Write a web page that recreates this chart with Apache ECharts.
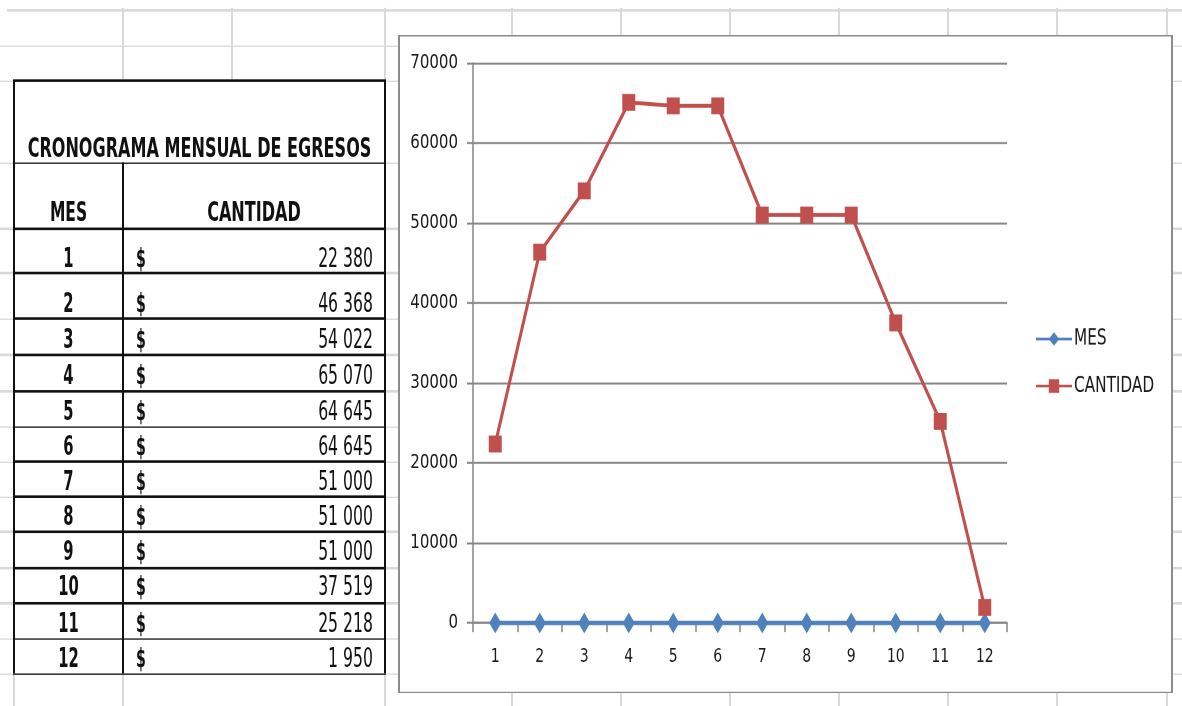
<!DOCTYPE html>
<html>
<head>
<meta charset="utf-8">
<script src="https://cdn.jsdelivr.net/npm/echarts@6/dist/echarts.min.js"></script>
<style>
  html, body { margin:0; padding:0; background:#fff; width:1182px; height:706px; overflow:hidden; }
  #wrap { position:absolute; left:0; top:0; width:1182px; height:543px; transform-origin:0 0; }
  .ln { position:absolute; }
  .txt { position:absolute; font-family:'Liberation Sans Narrow','DejaVu Sans Condensed','Arial Narrow',sans-serif; font-size:21px; line-height:21px; color:#111; white-space:nowrap; }
  .b { font-weight:bold; }
</style>
</head>
<body>
<div id="wrap"></div>
<script>
// ---------------- data ----------------
const tableTitle = 'CRONOGRAMA MENSUAL DE EGRESOS';
const headerMes = 'MES';
const headerCantidad = 'CANTIDAD';
const months = ['1','2','3','4','5','6','7','8','9','10','11','12'];
const mesValues = [1,2,3,4,5,6,7,8,9,10,11,12];
const cantidadValues = [22380,46368,54022,65070,64645,64645,51000,51000,51000,37519,25218,1950];
const yTicks = [0,10000,20000,30000,40000,50000,60000,70000];

// ---------------- layout (image is vertically stretched) ----------------
const H = 543, S = 706 / H;
const wrap = document.getElementById('wrap');
wrap.style.transform = 'scaleY(' + S + ')';
const Y = v => v / S;

function line(x, y, w, h, color) {
  const d = document.createElement('div');
  d.className = 'ln';
  d.style.left = x + 'px'; d.style.top = y + 'px';
  d.style.width = w + 'px'; d.style.height = h + 'px';
  d.style.background = color;
  wrap.appendChild(d);
  return d;
}
function text(str, cls, css, sx, origin) {
  const d = document.createElement('div');
  d.className = 'txt ' + (cls || '');
  d.textContent = str;
  Object.assign(d.style, css);
  d.style.transform = 'scaleX(' + sx + ')';
  d.style.transformOrigin = origin + ' 50%';
  wrap.appendChild(d);
  return d;
}

// spreadsheet grid
const gridColor = '#d9d9d9';
const rowLines = [46,81,163,229,273,319,355,391,427,462,497,532,568,603,639,674];
line(7, Y(9), 1175, 1.6, gridColor);
rowLines.forEach(y => line(0, Y(y) - 0.7, 1182, 1.6, gridColor));
[123,385,512,621,730,839,948,1057,1167].forEach(x => line(x - 1, Y(8), 2, H, gridColor));
line(13, Y(81), 2, H, gridColor);
line(231, Y(8), 2, Y(81) - Y(8), gridColor);

// table
const tL = 14, tR = 385, tT = 81, tB = 674, colX = 123;
line(tL - 1, Y(tT), tR - tL + 2, Y(tB) - Y(tT), '#fff');
const bc = '#111';
const hTh = 1.7;
line(tL - 1, Y(tT) - hTh / 2, tR - tL + 2, hTh, bc);
line(tL - 1, Y(tB) - hTh / 2, tR - tL + 2, hTh, bc);
line(tL - 1, Y(tT), 2, Y(tB) - Y(tT), bc);
line(tR - 1, Y(tT), 2, Y(tB) - Y(tT), bc);
line(colX - 1, Y(163), 2, Y(tB) - Y(163), bc);
const tRows = [163,229,273,319,355,391,427,462,497,532,568,603,639,674];
tRows.slice(0, -1).forEach(y => line(tL - 1, Y(y) - hTh / 2, tR - tL + 2, hTh, bc));

function baselineTop(bottomImg) { return Y(bottomImg) - 17.8; }

text(tableTitle, 'b', { left: (tL - 40) + 'px', width: (tR - tL + 80) + 'px', textAlign: 'center', top: baselineTop(158) + 'px' }, 0.85, '50%');
text(headerMes, 'b', { left: tL + 'px', width: (colX - tL) + 'px', textAlign: 'center', top: baselineTop(222) + 'px' }, 0.82, '50%');
text(headerCantidad, 'b', { left: colX + 'px', width: (tR - colX) + 'px', textAlign: 'center', top: baselineTop(222) + 'px' }, 0.85, '50%');

const fmt = v => String(v).replace(/\B(?=(\d{3})+(?!\d))/g, ' ');
months.forEach((m, i) => {
  const bottom = tRows[i + 2];
  const base = bottom - 6;
  text(m, 'b', { left: tL + 'px', width: (colX - tL) + 'px', textAlign: 'center', top: baselineTop(base) + 'px' }, 0.78, '50%');
  text('$', 'b', { left: '136px', top: baselineTop(base) + 'px' }, 0.75, '0%');
  text(fmt(cantidadValues[i]), '', { left: colX + 'px', width: (373 - colX) + 'px', textAlign: 'right', top: baselineTop(base) + 'px' }, 0.83, '100%');
});

// chart box
const box = document.createElement('div');
Object.assign(box.style, {
  position: 'absolute', left: '398px', top: Y(35) + 'px', width: (1173 - 398) + 'px', height: (Y(693) - Y(35)) + 'px',
  background: '#fff', boxSizing: 'border-box', borderLeft: '2px solid #8c8c8c', borderRight: '2px solid #8c8c8c',
  borderTop: '1.6px solid #8c8c8c', borderBottom: '1.6px solid #8c8c8c'
});
wrap.appendChild(box);

const chartDiv = document.createElement('div');
Object.assign(chartDiv.style, { position: 'absolute', left: '0px', top: '0px', width: '1182px', height: H + 'px' });
wrap.appendChild(chartDiv);

const chart = echarts.init(chartDiv, null, { devicePixelRatio: 2, renderer: 'canvas' });
const axisGray = '#868686';
const labelFont = { fontFamily: 'DejaVu Sans', fontSize: 14, color: '#1a1a1a' };
chart.setOption({
  animation: false,
  backgroundColor: 'transparent',
  grid: { left: 473, right: 1182 - 1007, top: Y(63), bottom: H - Y(623) },
  legend: {
    data: ['MES', 'CANTIDAD'], orient: 'vertical', left: 1035, top: Y(339) - 9, padding: 0,
    itemWidth: 36, itemHeight: 13, itemGap: (Y(386) - Y(339)) - 18,
    textStyle: { fontFamily: "'Liberation Sans Narrow','DejaVu Sans Condensed',sans-serif", fontSize: 17, lineHeight: 18, color: '#1a1a1a', padding: [0, 0, 0, -3] }
  },
  xAxis: {
    type: 'category', data: months, boundaryGap: true,
    axisLine: { lineStyle: { color: axisGray, width: 1.5 } },
    axisTick: { show: true, length: 7, interval: 0, lineStyle: { color: axisGray, width: 1.5 } },
    axisLabel: Object.assign({ margin: 19, interval: 0 }, labelFont),
    splitLine: { show: false }
  },
  yAxis: {
    type: 'value', min: yTicks[0], max: yTicks[yTicks.length - 1], interval: yTicks[1] - yTicks[0],
    axisLine: { show: true, lineStyle: { color: axisGray, width: 1.5 } },
    axisTick: { show: true, length: 6, lineStyle: { color: axisGray, width: 1.5 } },
    axisLabel: Object.assign({ margin: 15, formatter: v => String(v) }, labelFont, { fontSize: 15 }),
    splitLine: { show: true, lineStyle: { color: axisGray, width: 1.5 } }
  },
  series: [
    {
      name: 'MES', type: 'line', data: mesValues, symbol: 'diamond', symbolSize: [12, 16],
      lineStyle: { color: '#4F81BD', width: 3.5 }, itemStyle: { color: '#4F81BD' }
    },
    {
      name: 'CANTIDAD', type: 'line', data: cantidadValues, symbol: 'rect', symbolSize: 13,
      lineStyle: { color: '#C0504D', width: 3 }, itemStyle: { color: '#C0504D' }
    }
  ]
});
</script>
</body>
</html>
